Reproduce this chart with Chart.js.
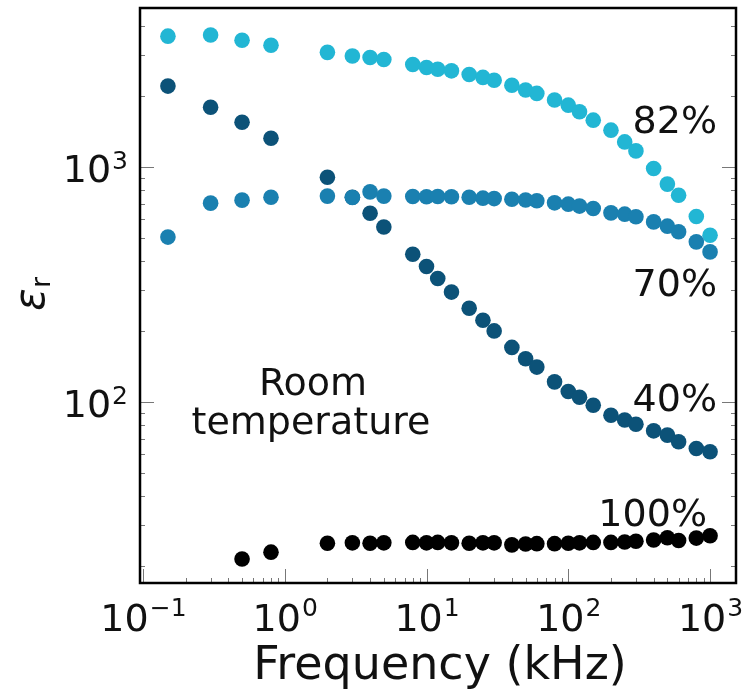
<!DOCTYPE html>
<html>
<head>
<meta charset="utf-8">
<script src="https://cdn.jsdelivr.net/npm/chart.js@4"></script>
<style>
  html, body { margin: 0; padding: 0; background: #fff; }
  canvas { display: block; }
</style>
</head>
<body>
<canvas id="permChart" width="746" height="690"></canvas>
<script>
// Frequency (kHz) shared by all series
const freq = [0.15, 0.3, 0.5, 0.8, 2, 3, 4, 5, 8, 10, 12, 15, 20, 25, 30, 40, 50, 60, 80, 100,
              120, 150, 200, 250, 300, 400, 500, 600, 800, 1000];

// relative permittivity
const eps82 = [3610, 3650, 3470, 3300, 3080, 2970, 2930, 2870, 2735, 2657, 2612, 2570, 2480, 2410, 2345,
               2233, 2130, 2060, 1930, 1836, 1720, 1585, 1437, 1281, 1173, 987, 847, 760, 617, 513];
const eps70 = [504, 703, 724, 745, 753, 743, 785, 753, 750, 748, 750, 748, 745, 738, 735,
               730, 725, 720, 705, 696, 683, 667, 639, 631, 615, 585, 561, 531, 481, 436];
const eps40 = [2213, 1800, 1553, 1328, 906, 745, 637, 556, 426, 378, 336, 294, 251, 223, 201,
               171, 153, 141, 122, 111, 105, 97, 88, 84, 80.5, 75.5, 72.4, 67.8, 63.5, 61.5];
const eps100 = [null, null, 21.5, 23.0, 25.1, 25.2, 25.1, 25.2, 25.3, 25.2, 25.3, 25.2, 25.1, 25.2, 25.2,
                24.7, 24.9, 25.0, 25.0, 25.1, 25.2, 25.3, 25.3, 25.4, 25.6, 25.9, 26.5, 25.8, 26.4, 27.0];

const xTicks = [0.1, 1, 10, 100, 1000];
const xTickExp = ['\u22121', '0', '1', '2', '3'];
const yTicks = [100, 1000];
const yTickExp = ['2', '3'];

const seriesLabels = ['82%', '70%', '40%', '100%'];

function toPoints(vals) {
  const pts = [];
  vals.forEach((v, i) => { if (v !== null) pts.push({ x: freq[i], y: v }); });
  return pts;
}

const FONT = '"DejaVu Sans", sans-serif';

// frame, inward ticks, tick labels and annotations
const decorPlugin = {
  id: 'decor',
  afterDatasetsDraw(chart) {
    const ctx = chart.ctx;
    const a = chart.chartArea;
    const xs = chart.scales.x, ys = chart.scales.y;
    ctx.save();

    // minor + major ticks
    ctx.strokeStyle = '#777';
    ctx.lineWidth = 1;
    ctx.beginPath();
    for (let e = -2; e <= 3; e++) {
      for (let m = 1; m < 10; m++) {
        const v = m * Math.pow(10, e);
        if (v < xs.min || v > xs.max) continue;
        const px = Math.round(xs.getPixelForValue(v)) + 0.5;
        const len = m === 1 ? 14 : 5;
        ctx.moveTo(px, a.bottom); ctx.lineTo(px, a.bottom - len);
      }
    }
    for (let e = 1; e <= 3; e++) {
      for (let m = 1; m < 10; m++) {
        const v = m * Math.pow(10, e);
        if (v < ys.min || v > ys.max) continue;
        const py = Math.round(ys.getPixelForValue(v)) + 0.5;
        const len = m === 1 ? 14 : 5;
        ctx.moveTo(a.left, py); ctx.lineTo(a.left + len, py);
        ctx.moveTo(a.right, py); ctx.lineTo(a.right - len, py);
      }
    }
    ctx.stroke();

    // frame
    ctx.strokeStyle = '#000';
    ctx.lineWidth = 2.5;
    ctx.strokeRect(a.left, a.top, a.right - a.left, a.bottom - a.top);

    ctx.fillStyle = '#111';
    ctx.textBaseline = 'alphabetic';

    // x tick labels: 10^n centred on the tick
    xTicks.forEach((v, i) => {
      const px = xs.getPixelForValue(v);
      ctx.font = '38px ' + FONT;
      const w1 = ctx.measureText('10').width;
      ctx.font = '25px ' + FONT;
      const w2 = ctx.measureText(xTickExp[i]).width;
      const x0 = px - (w1 + w2) / 2;
      ctx.textAlign = 'left';
      ctx.font = '38px ' + FONT;
      ctx.fillText('10', x0, 631);
      ctx.font = '25px ' + FONT;
      ctx.fillText(xTickExp[i], x0 + w1 + 1, 616);
    });

    // y tick labels, right aligned
    yTicks.forEach((v, i) => {
      const py = ys.getPixelForValue(v);
      ctx.font = '25px ' + FONT;
      const w2 = ctx.measureText(yTickExp[i]).width;
      ctx.textAlign = 'right';
      ctx.fillText(yTickExp[i], 128, py + 2);
      ctx.font = '38px ' + FONT;
      ctx.fillText('10', 127 - w2, py + 15);
    });

    // axis titles
    ctx.textAlign = 'center';
    ctx.font = '46px ' + FONT;
    ctx.fillText('Frequency (kHz)', (a.left + a.right) / 2 + 2, 679);

    ctx.save();
    ctx.translate(44, 300);
    ctx.rotate(-Math.PI / 2);
    ctx.textAlign = 'left';
    ctx.font = 'italic 42px ' + FONT;
    ctx.fillText('\u03b5', -11, 0);
    ctx.font = '27px ' + FONT;
    ctx.fillText('r', 12, 6);
    ctx.restore();

    // series annotations
    ctx.font = '38px ' + FONT;
    ctx.textAlign = 'right';
    ctx.fillText(seriesLabels[0], 717, 133);
    ctx.fillText(seriesLabels[1], 717, 296);
    ctx.fillText(seriesLabels[2], 717, 411);
    ctx.fillText(seriesLabels[3], 707, 526);

    ctx.textAlign = 'center';
    ctx.fillText('Room', 313, 395);
    ctx.fillText('temperature', 311, 434);

    ctx.restore();
  }
};

const ctx = document.getElementById('permChart').getContext('2d');
new Chart(ctx, {
  type: 'scatter',
  data: {
    datasets: [
      { label: seriesLabels[0], data: toPoints(eps82), backgroundColor: '#22b6d4', order: 4 },
      { label: seriesLabels[1], data: toPoints(eps70), backgroundColor: '#1a80b0', order: 2 },
      { label: seriesLabels[2], data: toPoints(eps40), backgroundColor: '#0c5278', order: 3 },
      { label: seriesLabels[3], data: toPoints(eps100), backgroundColor: '#000000', order: 1 }
    ]
  },
  options: {
    responsive: false,
    animation: false,
    layout: { padding: { left: 140, top: 8, right: 10, bottom: 107 } },
    elements: { point: { radius: 7.8, borderWidth: 0, hoverRadius: 7.8 } },
    scales: {
      x: { type: 'logarithmic', min: 0.0953, max: 1524, display: false },
      y: { type: 'logarithmic', min: 17, max: 4757, display: false }
    },
    plugins: {
      legend: { display: false },
      tooltip: { enabled: false }
    }
  },
  plugins: [decorPlugin]
});
</script>
</body>
</html>
